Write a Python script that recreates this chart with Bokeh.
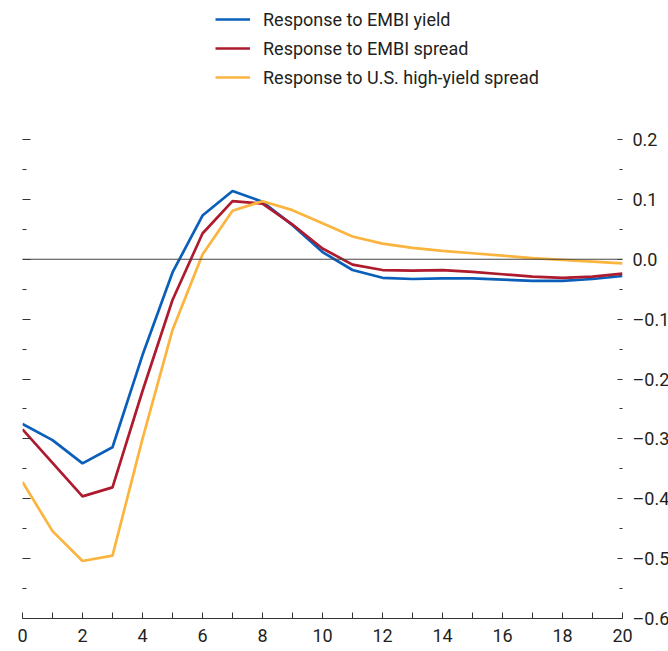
from bokeh.plotting import figure
from bokeh.models import (Range1d, LinearAxis, FixedTicker, Span, Legend, LegendItem)
from bokeh.embed import file_html
from bokeh.resources import INLINE

# ---- data ----
horizon = list(range(0, 21))
embi_yield = [-0.275, -0.302, -0.341, -0.314, -0.160, -0.022, 0.073, 0.114, 0.096, 0.057,
              0.012, -0.018, -0.031, -0.033, -0.032, -0.032, -0.034, -0.036, -0.036, -0.033, -0.028]
embi_spread = [-0.284, -0.340, -0.396, -0.381, -0.220, -0.068, 0.043, 0.097, 0.093, 0.058,
               0.018, -0.009, -0.018, -0.019, -0.018, -0.021, -0.025, -0.029, -0.031, -0.029, -0.024]
us_hy_spread = [-0.372, -0.454, -0.504, -0.495, -0.300, -0.118, 0.008, 0.081, 0.097, 0.082,
                0.060, 0.038, 0.026, 0.019, 0.014, 0.010, 0.006, 0.002, -0.001, -0.004, -0.007]
series_names = ["Response to EMBI yield", "Response to EMBI spread", "Response to U.S. high-yield spread"]
y_ticks = [-0.6, -0.5, -0.4, -0.3, -0.2, -0.1, 0.0, 0.1, 0.2]
y_minor = [-0.55, -0.45, -0.35, -0.25, -0.15, -0.05, 0.05, 0.15]
y_labels = ["\u20130.6", "\u20130.5", "\u20130.4", "\u20130.3", "\u20130.2", "\u20130.1", "0.0", "0.1", "0.2"]
x_ticks = [0, 2, 4, 6, 8, 10, 12, 14, 16, 18, 20]
x_minor = [1, 3, 5, 7, 9, 11, 13, 15, 17, 19]

colors = ["#0a5fba", "#ae1a2e", "#fbb43e"]
FONT = "Roboto"
TXT = "#231f20"

p = figure(frame_width=600, frame_height=610, output_backend="svg", toolbar_location=None,
           x_range=Range1d(0, 20), y_range=Range1d(-0.6, 0.4188),
           min_border_left=22, min_border_top=8, min_border_right=0, min_border_bottom=0,
           y_axis_location=None, x_axis_location=None)
p.outline_line_color = None
p.grid.visible = False
p.background_fill_color = "white"

# zero line
p.add_layout(Span(location=0, dimension="width", line_color="#444444", line_width=1.2))

renderers = []
for ys, c in zip([embi_yield, embi_spread, us_hy_spread], colors):
    r = p.line(horizon, ys, line_color=c, line_width=2.7)
    renderers.append(r)

# bottom axis
xa = LinearAxis(ticker=FixedTicker(ticks=x_ticks, minor_ticks=x_minor))
xa.axis_line_color = "#333333"
xa.axis_line_width = 1.2
xa.major_tick_in = 6
xa.major_tick_out = 0
xa.minor_tick_in = 6
xa.minor_tick_out = 0
xa.major_tick_line_color = "#333333"
xa.minor_tick_line_color = "#333333"
xa.major_label_standoff = 10
xa.major_label_text_font = FONT
xa.major_label_text_font_size = "18px"
xa.major_label_text_color = TXT
p.add_layout(xa, "below")

# left axis (ticks only)
ya_l = LinearAxis(ticker=FixedTicker(ticks=y_ticks, minor_ticks=y_minor))
ya_l.axis_line_color = None
ya_l.major_tick_in = 8
ya_l.major_tick_out = 0
ya_l.minor_tick_in = 4
ya_l.minor_tick_out = 0
ya_l.major_tick_line_color = "#333333"
ya_l.minor_tick_line_color = "#333333"
ya_l.major_label_overrides = {t: "" for t in y_ticks}
ya_l.major_label_standoff = 0
p.add_layout(ya_l, "left")

# right axis
ya_r = LinearAxis(ticker=FixedTicker(ticks=y_ticks, minor_ticks=y_minor))
ya_r.axis_line_color = None
ya_r.major_tick_in = 5
ya_r.major_tick_out = 0
ya_r.minor_tick_in = 3
ya_r.minor_tick_out = 0
ya_r.major_tick_line_color = "#333333"
ya_r.minor_tick_line_color = "#333333"
ya_r.major_label_overrides = {t: l for t, l in zip(y_ticks, y_labels)}
ya_r.major_label_standoff = 10
ya_r.major_label_text_font = FONT
ya_r.major_label_text_font_size = "18px"
ya_r.major_label_text_color = TXT
p.add_layout(ya_r, "right")

legend = Legend(items=[LegendItem(label=n, renderers=[r]) for n, r in zip(series_names, renderers)],
                location=(193, 530))
legend.border_line_color = None
legend.background_fill_alpha = 0
legend.padding = 0
legend.margin = 0
legend.spacing = 7
legend.glyph_width = 35
legend.glyph_height = 22
legend.label_height = 22
legend.label_standoff = 13
legend.label_text_font = FONT
legend.label_text_font_size = "18px"
legend.label_text_color = TXT
p.add_layout(legend)

open("out.html", "w").write(file_html(p, INLINE))
